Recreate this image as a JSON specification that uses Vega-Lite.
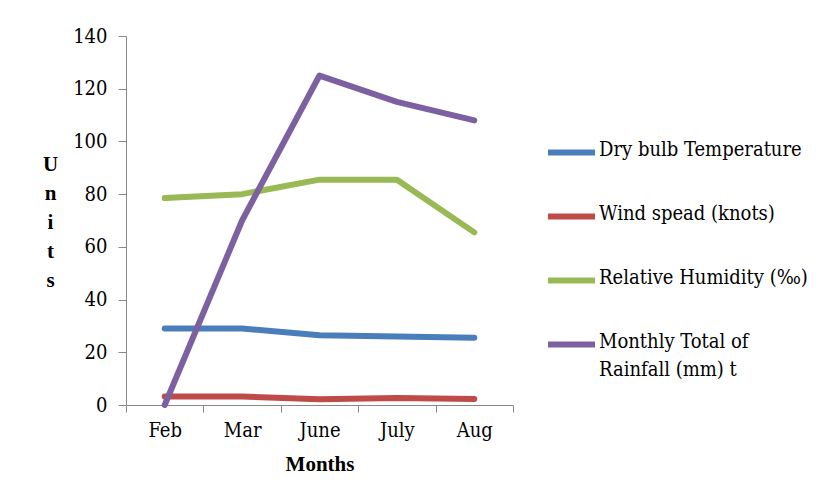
{
  "$schema": "https://vega.github.io/schema/vega-lite/v6.json",
  "width": 387,
  "height": 369,
  "autosize": "none",
  "padding": {"left": 126, "top": 36, "right": 324, "bottom": 99},
  "background": "white",
  "config": {
    "view": {"stroke": null},
    "font": "DejaVu Serif"
  },
  "data": {
    "values": [
      {"month": "Feb", "series": "Dry bulb Temperature", "value": 29},
      {"month": "Mar", "series": "Dry bulb Temperature", "value": 29},
      {"month": "June", "series": "Dry bulb Temperature", "value": 26.5},
      {"month": "July", "series": "Dry bulb Temperature", "value": 26},
      {"month": "Aug", "series": "Dry bulb Temperature", "value": 25.5},
      {"month": "Feb", "series": "Wind spead (knots)", "value": 3.2},
      {"month": "Mar", "series": "Wind spead (knots)", "value": 3.2},
      {"month": "June", "series": "Wind spead (knots)", "value": 2.2},
      {"month": "July", "series": "Wind spead (knots)", "value": 2.7},
      {"month": "Aug", "series": "Wind spead (knots)", "value": 2.3},
      {"month": "Feb", "series": "Relative Humidity  (‰)", "value": 78.5},
      {"month": "Mar", "series": "Relative Humidity  (‰)", "value": 80},
      {"month": "June", "series": "Relative Humidity  (‰)", "value": 85.5},
      {"month": "July", "series": "Relative Humidity  (‰)", "value": 85.5},
      {"month": "Aug", "series": "Relative Humidity  (‰)", "value": 65.5},
      {"month": "Feb", "series": "Monthly Total of Rainfall (mm) t", "value": 0},
      {"month": "Mar", "series": "Monthly Total of Rainfall (mm) t", "value": 70},
      {"month": "June", "series": "Monthly Total of Rainfall (mm) t", "value": 125},
      {"month": "July", "series": "Monthly Total of Rainfall (mm) t", "value": 115},
      {"month": "Aug", "series": "Monthly Total of Rainfall (mm) t", "value": 108}
    ]
  },
  "mark": {"type": "line", "strokeWidth": 6, "strokeCap": "round", "strokeJoin": "round"},
  "encoding": {
    "x": {
      "field": "month",
      "type": "nominal",
      "sort": ["Feb", "Mar", "June", "July", "Aug"],
      "scale": {"type": "band", "paddingInner": 0, "paddingOuter": 0},
      "axis": {
        "title": "Months",
        "labelAngle": 0,
        "tickBand": "extent",
        "domainColor": "#888888",
        "tickColor": "#888888",
        "tickSize": 7,
        "labelFont": "DejaVu Serif Condensed, DejaVu Serif",
        "labelFontSize": 20,
        "labelColor": "#000000",
        "labelPadding": 8,
        "titleFont": "Liberation Serif",
        "titleFontSize": 21,
        "titleFontWeight": "bold",
        "titleColor": "#000000",
        "titlePadding": 13,
        "grid": false
      }
    },
    "y": {
      "field": "value",
      "type": "quantitative",
      "scale": {"domain": [0, 140], "nice": false},
      "axis": {
        "title": ["U", "n", "i", "t", "s"],
        "titleAngle": 0,
        "titleAlign": "center",
        "titleBaseline": "top",
        "titleX": -76,
        "titleY": 117,
        "titleLineHeight": 29,
        "titleFont": "Liberation Serif",
        "titleFontSize": 21,
        "titleFontWeight": "bold",
        "titleColor": "#000000",
        "values": [0, 20, 40, 60, 80, 100, 120, 140],
        "grid": false,
        "domainColor": "#888888",
        "tickColor": "#888888",
        "tickSize": 8,
        "labelFont": "DejaVu Serif Condensed, DejaVu Serif",
        "labelFontSize": 20,
        "labelColor": "#000000",
        "labelPadding": 11
      }
    },
    "color": {
      "field": "series",
      "type": "nominal",
      "scale": {
        "domain": ["Dry bulb Temperature", "Wind spead (knots)", "Relative Humidity  (‰)", "Monthly Total of Rainfall (mm) t"],
        "range": ["#4A7EBB", "#BE4B48", "#98B954", "#7D60A0"]
      },
      "legend": {
        "title": null,
        "orient": "none",
        "legendX": 419,
        "legendY": 90,
        "symbolType": "stroke",
        "symbolSize": 2209,
        "symbolStrokeWidth": 6,
        "labelFont": "DejaVu Serif Condensed, DejaVu Serif",
        "labelFontSize": 20,
        "labelColor": "#000000",
        "labelOffset": 1,
        "labelLimit": 300,
        "labelBaseline": "top",
        "rowPadding": 25,
        "labelExpr": "datum.label == 'Monthly Total of Rainfall (mm) t' ? ['Monthly Total of', 'Rainfall (mm) t'] : datum.label",
        "encode": {
          "labels": {"update": {"dy": {"value": -13}, "lineHeight": {"value": 28}}}
        }
      }
    }
  }
}
